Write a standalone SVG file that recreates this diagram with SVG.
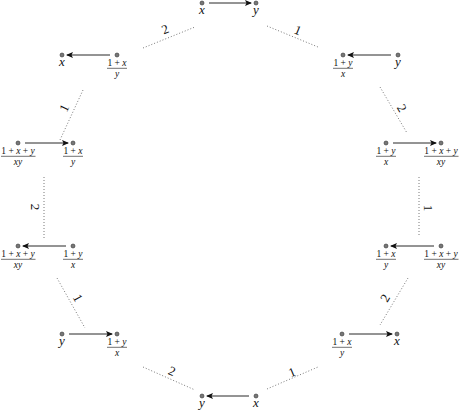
<svg xmlns="http://www.w3.org/2000/svg" width="459" height="411" viewBox="0 0 459 411">
<style>
.bg{fill:#fff}
.dot{fill:#777;stroke:#333;stroke-width:0.6}
.v{font-family:"Liberation Serif","DejaVu Serif",serif;font-style:italic;font-size:13px;fill:#111;text-anchor:middle}
.f{font-family:"Liberation Serif","DejaVu Serif",serif;font-size:9.5px;fill:#111;text-anchor:middle}
.i{font-style:italic}
.fl{stroke:#111;stroke-width:0.6}
.arr{stroke:#111;stroke-width:0.9;fill:none;marker-end:url(#ah)}
.dt{stroke:#555;stroke-width:0.8;stroke-dasharray:1 2;fill:none}
.el{font-family:"Liberation Serif","DejaVu Serif",serif;font-size:13px;fill:#111;text-anchor:middle;dominant-baseline:central}
</style>
<defs>
<marker id="ah" markerWidth="7" markerHeight="6" refX="6" refY="3" orient="auto" markerUnits="userSpaceOnUse">
<path d="M0,0 L7,3 L0,6 L1.5,3 Z" fill="#111"/>
</marker>
</defs>
<rect class="bg" width="459" height="411"/>

<g id="connectors">
<line class="arr" x1="209" y1="3" x2="251" y2="3"/>
<line class="arr" x1="110" y1="55" x2="67" y2="55"/>
<line class="arr" x1="391" y1="55" x2="348" y2="55"/>
<line class="arr" x1="25" y1="143" x2="68" y2="143"/>
<line class="arr" x1="393" y1="143" x2="436" y2="143"/>
<line class="arr" x1="66" y1="246" x2="23" y2="246"/>
<line class="arr" x1="434" y1="246" x2="391" y2="246"/>
<line class="arr" x1="69" y1="334" x2="112" y2="334"/>
<line class="arr" x1="349" y1="334" x2="392" y2="334"/>
<line class="arr" x1="249" y1="396" x2="207" y2="396"/>

<line class="dt" x1="143" y1="48" x2="195" y2="27"/>
<line class="dt" x1="267" y1="26" x2="318" y2="47"/>
<line class="dt" x1="83" y1="90" x2="60" y2="140"/>
<line class="dt" x1="380" y1="87" x2="407" y2="133"/>
<line class="dt" x1="44" y1="177" x2="44" y2="238"/>
<line class="dt" x1="419" y1="177" x2="419" y2="237"/>
<line class="dt" x1="57" y1="278" x2="85" y2="328"/>
<line class="dt" x1="408" y1="278" x2="380" y2="325"/>
<line class="dt" x1="143" y1="367" x2="195" y2="390"/>
<line class="dt" x1="267" y1="389" x2="318" y2="367"/>

<text class="el" transform="translate(165,29) rotate(-22)">2</text>
<text class="el" transform="translate(298,30) rotate(22)">1</text>
<text class="el" transform="translate(64,108) rotate(-65)">1</text>
<text class="el" transform="translate(402,108) rotate(60)">2</text>
<text class="el" transform="translate(35,207) rotate(90)">2</text>
<text class="el" transform="translate(428,208) rotate(90)">1</text>
<text class="el" transform="translate(78,298) rotate(61)">1</text>
<text class="el" transform="translate(385,298) rotate(-60)">2</text>
<text class="el" transform="translate(172,371) rotate(24)">2</text>
<text class="el" transform="translate(292,372) rotate(-23)">1</text>
</g>

<g id="A1"><circle class="dot" cx="202" cy="3" r="2"/><text class="v" x="202" y="14">x</text></g>
<g id="A2"><circle class="dot" cx="256" cy="3" r="2"/><text class="v" x="256" y="14">y</text></g>

<g id="B1"><circle class="dot" cx="62" cy="55" r="2"/><text class="v" x="62" y="66">x</text></g>
<g id="B2"><circle class="dot" cx="117" cy="55" r="2"/><text class="f" x="117" y="66">1 + <tspan class="i">x</tspan></text><line class="fl" x1="107" y1="68.3" x2="127" y2="68.3"/><text class="f i" x="117" y="76.8">y</text></g>

<g id="C1"><circle class="dot" cx="343" cy="55" r="2"/><text class="f" x="343" y="66">1 + <tspan class="i">y</tspan></text><line class="fl" x1="333" y1="68.3" x2="353" y2="68.3"/><text class="f i" x="343" y="76.8">x</text></g>
<g id="C2"><circle class="dot" cx="398" cy="55" r="2"/><text class="v" x="398" y="66">y</text></g>

<g id="D1"><circle class="dot" cx="18" cy="143" r="2"/><text class="f" x="18" y="154">1 + <tspan class="i">x</tspan> + <tspan class="i">y</tspan></text><line class="fl" x1="1" y1="156.3" x2="35.5" y2="156.3"/><text class="f i" x="18" y="164.8">xy</text></g>
<g id="D2"><circle class="dot" cx="73" cy="143" r="2"/><text class="f" x="73" y="154">1 + <tspan class="i">x</tspan></text><line class="fl" x1="63" y1="156.3" x2="83" y2="156.3"/><text class="f i" x="73" y="164.8">y</text></g>

<g id="E1"><circle class="dot" cx="386" cy="143" r="2"/><text class="f" x="386" y="154">1 + <tspan class="i">y</tspan></text><line class="fl" x1="376" y1="156.3" x2="396" y2="156.3"/><text class="f i" x="386" y="164.8">x</text></g>
<g id="E2"><circle class="dot" cx="441" cy="143" r="2"/><text class="f" x="441" y="154">1 + <tspan class="i">x</tspan> + <tspan class="i">y</tspan></text><line class="fl" x1="424" y1="156.3" x2="458.5" y2="156.3"/><text class="f i" x="441" y="164.8">xy</text></g>

<g id="F1"><circle class="dot" cx="18" cy="246" r="2"/><text class="f" x="18" y="257">1 + <tspan class="i">x</tspan> + <tspan class="i">y</tspan></text><line class="fl" x1="1" y1="259.3" x2="35.5" y2="259.3"/><text class="f i" x="18" y="267.8">xy</text></g>
<g id="F2"><circle class="dot" cx="73" cy="246" r="2"/><text class="f" x="73" y="257">1 + <tspan class="i">y</tspan></text><line class="fl" x1="63" y1="259.3" x2="83" y2="259.3"/><text class="f i" x="73" y="267.8">x</text></g>

<g id="G1"><circle class="dot" cx="386" cy="246" r="2"/><text class="f" x="386" y="257">1 + <tspan class="i">x</tspan></text><line class="fl" x1="376" y1="259.3" x2="396" y2="259.3"/><text class="f i" x="386" y="267.8">y</text></g>
<g id="G2"><circle class="dot" cx="441" cy="246" r="2"/><text class="f" x="441" y="257">1 + <tspan class="i">x</tspan> + <tspan class="i">y</tspan></text><line class="fl" x1="424" y1="259.3" x2="458.5" y2="259.3"/><text class="f i" x="441" y="267.8">xy</text></g>

<g id="H1"><circle class="dot" cx="62" cy="334" r="2"/><text class="v" x="62" y="345">y</text></g>
<g id="H2"><circle class="dot" cx="117" cy="334" r="2"/><text class="f" x="117" y="345">1 + <tspan class="i">y</tspan></text><line class="fl" x1="107" y1="347.3" x2="127" y2="347.3"/><text class="f i" x="117" y="355.8">x</text></g>

<g id="I1"><circle class="dot" cx="342" cy="334" r="2"/><text class="f" x="342" y="345">1 + <tspan class="i">x</tspan></text><line class="fl" x1="332" y1="347.3" x2="352" y2="347.3"/><text class="f i" x="342" y="355.8">y</text></g>
<g id="I2"><circle class="dot" cx="397" cy="334" r="2"/><text class="v" x="397" y="345">x</text></g>

<g id="J1"><circle class="dot" cx="202" cy="396" r="2"/><text class="v" x="202" y="407">y</text></g>
<g id="J2"><circle class="dot" cx="256" cy="396" r="2"/><text class="v" x="256" y="407">x</text></g>
</svg>
